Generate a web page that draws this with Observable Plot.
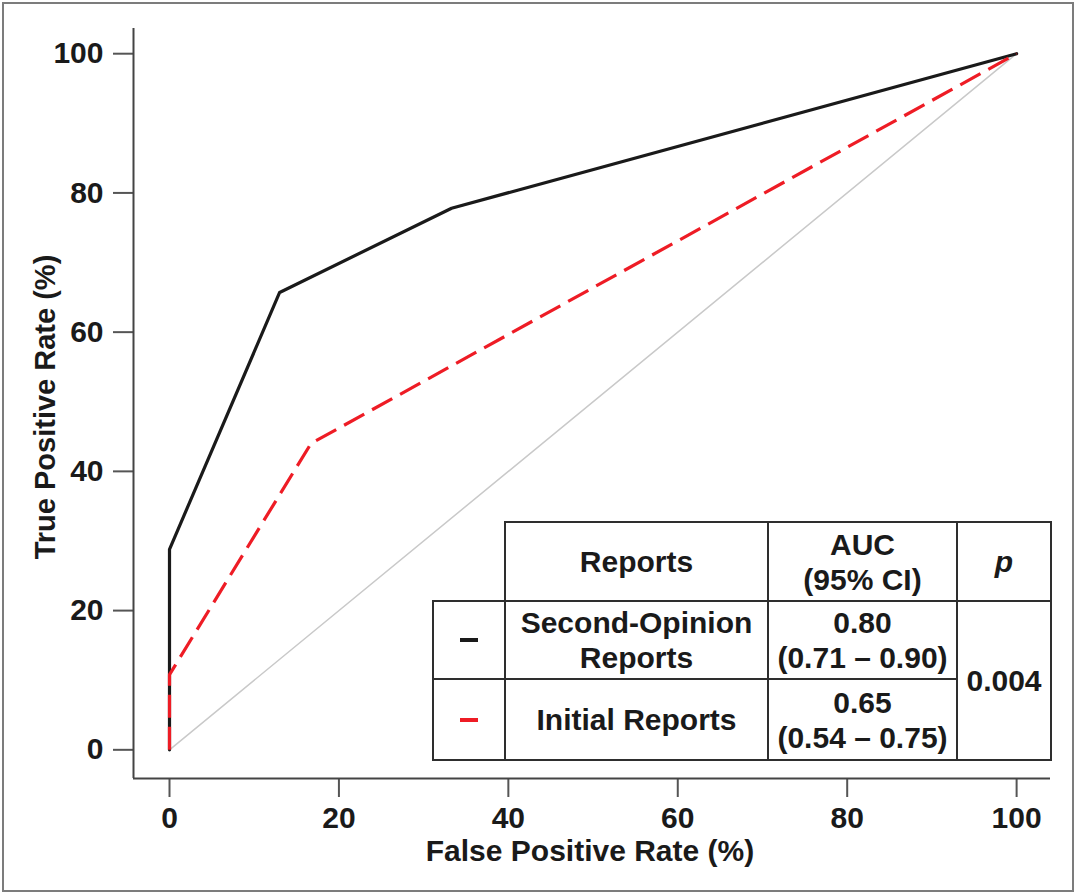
<!DOCTYPE html>
<html>
<head>
<meta charset="utf-8">
<script src="https://cdn.jsdelivr.net/npm/d3@7"></script>
<script src="https://cdn.jsdelivr.net/npm/@observablehq/plot@0.6"></script>
<style>
  html, body { margin: 0; padding: 0; background: #fff; }
  #wrap { position: relative; width: 1076px; height: 894px; overflow: hidden;
          font-family: "Liberation Sans", Arial, Helvetica, sans-serif; font-weight: bold; color: #1a1a1a; }
  #frame { position: absolute; left: 2px; top: 2px; width: 1072px; height: 890px;
           box-sizing: border-box; border: 2px solid #7c7c7c; pointer-events: none; }
  #chart { position: absolute; left: 0; top: 0; }
  #chart svg [aria-label$="axis tick"] path, #chart svg .tick line { stroke: #555; stroke-width: 2px; }
  .title { position: absolute; font-size: 30px; line-height: 34px; white-space: nowrap; }
  .line { position: absolute; background: #2e2e2e; }
  .cell { position: absolute; display: flex; align-items: center; justify-content: center;
          text-align: center; font-size: 30px; line-height: 35px; }
  .mark { position: absolute; height: 4px; width: 18px; }
</style>
</head>
<body>
<div id="wrap">
  <div id="chart"></div>
  <div id="frame"></div>
</div>
<script>
// ---- data ----
const secondFPR = [0, 0, 13.0, 33.3, 100];
const secondTPR = [0, 28.8, 65.7, 77.8, 100];
const initialFPR = [0, 0, 16.7, 100];
const initialTPR = [0, 10.8, 44.0, 100];
const chanceFPR = [0, 100];
const chanceTPR = [0, 100];
const xTicks = [0, 20, 40, 60, 80, 100];
const yTicks = [0, 20, 40, 60, 80, 100];
const xDomain = [-4.25, 104];
const yDomain = [-4.12, 103.62];

const seriesNames = ["Second-Opinion Reports", "Initial Reports"];
const seriesLines = [["Second-Opinion", "Reports"], ["Initial Reports"]];
const seriesColors = ["#1a1a1a", "#ee1c25"];
const aucValues = ["0.80", "0.65"];
const aucCI = ["(0.71 \u2013 0.90)", "(0.54 \u2013 0.75)"];
const pValue = "0.004";
const headers = ["Reports", ["AUC", "(95% CI)"], "p"];
const xTitle = "False Positive Rate (%)";
const yTitle = "True Positive Rate (%)";

const toRows = (xs, ys) => xs.map((x, i) => ({x, y: ys[i]}));

const chart = Plot.plot({
  width: 1076,
  height: 894,
  marginLeft: 133,
  marginRight: 26,
  marginTop: 28,
  marginBottom: 116,
  style: {fontSize: "30px", fontWeight: "bold", fontFamily: "'Liberation Sans', Arial, sans-serif", color: "#1a1a1a", background: "transparent"},
  x: {domain: xDomain, ticks: xTicks, tickSize: 19, tickPadding: 9, label: null},
  y: {domain: yDomain, ticks: yTicks, tickSize: 20, tickPadding: 10, label: null},
  marks: [
    Plot.ruleX([xDomain[0]], {stroke: "#444", strokeWidth: 2}),
    Plot.ruleY([yDomain[0]], {stroke: "#444", strokeWidth: 2}),
    Plot.line(toRows(chanceFPR, chanceTPR), {x: "x", y: "y", stroke: "#c9c9c9", strokeWidth: 1.5}),
    Plot.line(toRows(secondFPR, secondTPR), {x: "x", y: "y", stroke: seriesColors[0], strokeWidth: 3.2}),
    Plot.line(toRows(initialFPR, initialTPR), {x: "x", y: "y", stroke: seriesColors[1], strokeWidth: 3.2, strokeDasharray: "23,9", strokeLinecap: "butt"})
  ]
});
document.getElementById("chart").appendChild(chart);

// ---- axis titles ----
const wrap = document.getElementById("wrap");
const xt = document.createElement("div");
xt.className = "title";
xt.textContent = xTitle;
xt.style.left = "390px"; xt.style.width = "400px"; xt.style.textAlign = "center"; xt.style.top = "834px";
wrap.appendChild(xt);
const yt = document.createElement("div");
yt.className = "title";
yt.textContent = yTitle;
yt.style.fontSize = "29px";
yt.style.left = "45px"; yt.style.top = "407px";
yt.style.transform = "translate(-50%, -50%) rotate(-90deg)";
wrap.appendChild(yt);

// ---- inset table ----
const colX = [433, 505, 768, 957, 1051];
const rowY = [522, 601, 679, 760];
const lw = 2;
function hline(x1, x2, y) { const d = document.createElement("div"); d.className = "line";
  Object.assign(d.style, {left: (x1 - lw/2) + "px", top: (y - lw/2) + "px", width: (x2 - x1 + lw) + "px", height: lw + "px"}); wrap.appendChild(d); }
function vline(x, y1, y2) { const d = document.createElement("div"); d.className = "line";
  Object.assign(d.style, {left: (x - lw/2) + "px", top: (y1 - lw/2) + "px", width: lw + "px", height: (y2 - y1 + lw) + "px"}); wrap.appendChild(d); }
function cell(x1, x2, y1, y2, lines, italic) {
  const d = document.createElement("div"); d.className = "cell";
  Object.assign(d.style, {left: x1 + "px", top: y1 + "px", width: (x2 - x1) + "px", height: (y2 - y1) + "px"});
  if (italic) d.style.fontStyle = "italic";
  d.innerHTML = [].concat(lines).map(s => s.replace(/&/g, "&amp;")).join("<br>");
  wrap.appendChild(d);
}
// grid lines
hline(colX[1], colX[4], rowY[0]);
hline(colX[0], colX[4], rowY[1]);
hline(colX[0], colX[3], rowY[2]);
hline(colX[0], colX[4], rowY[3]);
vline(colX[0], rowY[1], rowY[3]);
vline(colX[1], rowY[0], rowY[3]);
vline(colX[2], rowY[0], rowY[3]);
vline(colX[3], rowY[0], rowY[3]);
vline(colX[4], rowY[0], rowY[3]);
// header
cell(colX[1], colX[2], rowY[0], rowY[1], headers[0]);
cell(colX[2], colX[3], rowY[0], rowY[1], headers[1]);
cell(colX[3], colX[4], rowY[0], rowY[1], headers[2], true);
// body rows
seriesNames.forEach((name, i) => {
  const y1 = rowY[i + 1], y2 = rowY[i + 2];
  const m = document.createElement("div"); m.className = "mark";
  Object.assign(m.style, {left: ((colX[0] + colX[1]) / 2 - 9) + "px", top: ((y1 + y2) / 2 - 2) + "px", background: seriesColors[i]});
  wrap.appendChild(m);
  cell(colX[1], colX[2], y1, y2, seriesLines[i]);
  cell(colX[2], colX[3], y1, y2, [aucValues[i], aucCI[i]]);
});
cell(colX[3], colX[4], rowY[1], rowY[3], pValue);
</script>
</body>
</html>
